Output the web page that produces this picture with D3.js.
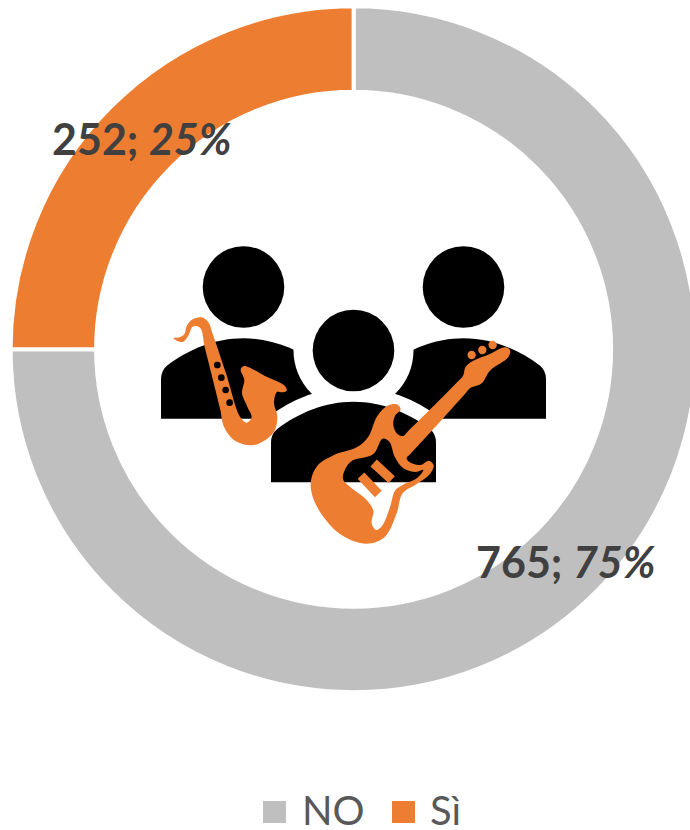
<!DOCTYPE html>
<html><head><meta charset="utf-8">
<script src="https://cdn.jsdelivr.net/npm/d3@7/dist/d3.min.js"></script>
<style>html,body{margin:0;padding:0;background:#fff;overflow:hidden}svg{display:block}</style>
</head><body><svg id="c" width="690" height="830"></svg>
<script>
const categories = ["NO", "Sì"];
const counts = [765, 252];
const shares = [75, 25];
const colors = ["#BFBFBF", "#ED7D31"];

const svg = d3.select("#c");
const cx = 353.6, cy = 349.2, rOuter = 343, rInner = 257.5;
const pie = d3.pie().sort(null).value(d => d).startAngle(0).endAngle(2*Math.PI);
const arc = d3.arc().innerRadius(rInner).outerRadius(rOuter);
const ring = svg.append("g").attr("transform", `translate(${cx},${cy})`);
ring.selectAll("path").data(pie(shares)).join("path")
  .attr("d", arc).attr("fill", (d,i)=>colors[i]).attr("stroke","#fff").attr("stroke-width",4);

// Icon group: black people
const icon = svg.append("g");
const smooth = d3.line().curve(d3.curveCatmullRomClosed.alpha(0.5));
function person(x, y, halo){
  const g = icon.append("g").attr("transform",`translate(${x},${y})`);
  const d = "M-82.5,81.5V42Q-82.5,33 -76,28C-55,12 -28,1 0,1C28,1 55,12 76,28Q82.5,33 82.5,42V81.5Z";
  if (halo){
    g.append("circle").attr("cy",-50.3).attr("r",60).attr("fill","#fff");
    g.append("path").attr("d",d).attr("fill","#fff").attr("stroke","#fff").attr("stroke-width",30);
  }
  g.append("circle").attr("cy",-50.3).attr("r",40.8).attr("fill","#000");
  g.append("path").attr("d",d).attr("fill","#000");
}
person(243.5,337.3,false);
person(463.5,337.3,false);
person(353.5,400.8,true);

// Saxophone (points from the picture, crop units 3 = 1px)
const orange = "#ED7D31";
const saxPts = [[70,295],[88,292],[103,283],[110,258],[128,238],[155,232],[176,248],[186,275],[228,400],[270,530],[290,548],[305,532],[292,500],[276,460],[283,420],[272,388],[282,378],[345,408],[405,438],[410,452],[395,457],[381,456],[372,490],[382,530],[370,578],[312,615],[255,602],[222,560],[210,505],[165,325],[150,263],[128,260],[116,285],[100,305],[82,303]];
const sax = icon.append("g").attr("transform","translate(150,240) scale(0.3333)");
sax.append("path").attr("d",smooth(saxPts)).attr("fill",orange);
sax.selectAll("circle").data([[202,375],[214,413],[227,450],[239,488]]).join("circle")
  .attr("cx",d=>d[0]).attr("cy",d=>d[1]).attr("r",10).attr("fill","#000");

// Guitar
const guitarOuter = [[750,60],[735,52],[690,72],[640,92],[617,110],[609,138],[595,153],[520,229],[442,306],[430,318],[412,312],[400,285],[405,258],[422,238],[410,223],[385,226],[352,258],[325,320],[290,352],[222,375],[170,410],[152,465],[172,532],[240,612],[320,641],[375,620],[410,550],[428,490],[470,462],[510,432],[521,405],[506,392],[482,405],[447,395],[440,384],[452,371],[540,275],[618,188],[630,175],[665,160],[690,122],[745,82]];
const guitarInner = [[250,432],[272,395],[340,372],[368,326],[388,335],[405,382],[430,415],[468,426],[490,420],[470,445],[428,465],[405,482],[390,532],[366,588],[348,600],[335,580],[340,542],[320,510],[270,470],[250,450]];
const guitar = icon.append("g").attr("transform","translate(260,330) scale(0.3333)");
guitar.append("path").attr("fill-rule","evenodd").attr("fill",orange)
  .attr("d",smooth(guitarOuter)+smooth(guitarInner));
guitar.selectAll("line").data([[341,399,395,449],[303,437,355,492]]).join("line")
  .attr("x1",d=>d[0]).attr("y1",d=>d[1]).attr("x2",d=>d[2]).attr("y2",d=>d[3])
  .attr("stroke",orange).attr("stroke-width",28);
guitar.selectAll("circle").data([[635,75],[667,60],[698,45]]).join("circle")
  .attr("cx",d=>d[0]).attr("cy",d=>d[1]).attr("r",12.5).attr("fill",orange);

// Data labels
const labelPos = [[476,578],[52,155]];
counts.forEach((v,i)=>{
  const t = svg.append("text").attr("x",labelPos[i][0]).attr("y",labelPos[i][1])
    .attr("font-family","Lato, 'Open Sans', sans-serif").attr("font-size",43).attr("font-weight",700).attr("fill","#404040");
  t.append("tspan").text(v+"; ");
  t.append("tspan").attr("font-style","italic").text(shares[i]+"%");
});

// Legend
const legendX = [263,392], legendTextX=[302,430];
categories.forEach((c,i)=>{
  svg.append("rect").attr("x",legendX[i]).attr("y",801).attr("width",23).attr("height",22).attr("fill",colors[i]);
  svg.append("text").attr("x",legendTextX[i]).attr("y",825)
    .attr("font-family","Lato, 'Open Sans', sans-serif").attr("font-size",40).attr("fill","#595959").text(c);
});
</script></body></html>
